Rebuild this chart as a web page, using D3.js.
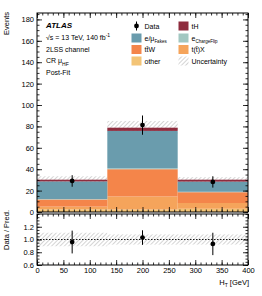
<!DOCTYPE html>
<html>
<head>
<meta charset="utf-8">
<script src="https://cdn.jsdelivr.net/npm/d3@7"></script>
<style>
  body { margin: 0; background: #fff; }
  text { font-family: "Liberation Sans", Arial, sans-serif; }
</style>
</head>
<body>
<svg id="chart" width="262" height="296"></svg>
<script>
// bins in H_T [GeV]
var binEdges = [0, 133.3, 266.7, 400];

// stacked backgrounds, bottom to top
var other      = [2.5, 2.3, 3.0];
var ttX        = [2.5, 12.2, 5.4];
var ttW        = [6.7, 25.5, 10.1];
var chargeFlip = [0.4, 0.8, 0.4];
var fakes      = [16.5, 35.0, 9.5];
var tH         = [1.6, 3.0, 1.8];
var uncert     = [3.2, 6.3, 2.4];

var dataVals = [29.0, 81.2, 28.1];
var dataErr  = [5.4, 9.0, 5.3];

var yTicks  = [0, 20, 40, 60, 80, 100, 120, 140, 160, 180];
var xTicks  = [0, 50, 100, 150, 200, 250, 300, 350, 400];
var rTicks  = [0.6, 0.8, 1, 1.2];

var layers = [
  { name: "other",      vals: other,      color: "#f3c476" },
  { name: "ttX",        vals: ttX,        color: "#f5a45b" },
  { name: "ttW",        vals: ttW,        color: "#f4854a" },
  { name: "chargeFlip", vals: chargeFlip, color: "#a2c7c1" },
  { name: "fakes",      vals: fakes,      color: "#6a9cad" },
  { name: "tH",         vals: tH,         color: "#8e2c3e" }
];

var svg = d3.select("#chart");

var defs = svg.append("defs");
var pat = defs.append("pattern")
    .attr("id", "hatch")
    .attr("patternUnits", "userSpaceOnUse")
    .attr("width", 3).attr("height", 3)
    .attr("patternTransform", "rotate(45)");
pat.append("line")
    .attr("x1", 0).attr("y1", 0).attr("x2", 0).attr("y2", 3)
    .attr("stroke", "#a0a0a0").attr("stroke-width", 0.9);

var L = 37, R = 248, T = 13, B = 212;
var RT = 214, RB = 265;

var x = d3.scaleLinear().domain([0, 400]).range([L, R]);
var y = d3.scaleLinear().domain([0, 186]).range([B, T]);
var yr = d3.scaleLinear().domain([0.6, 1.4]).range([RB, RT]);

var nb = dataVals.length;
var base = [0, 0, 0];
var total = [0, 0, 0];
layers.forEach(function(l) {
  for (var i = 0; i < nb; i++) total[i] += l.vals[i];
});

// uncertainty band (drawn under the stack, only the upper half shows)
for (var i = 0; i < nb; i++) {
  svg.append("rect")
    .attr("x", x(binEdges[i]))
    .attr("width", x(binEdges[i+1]) - x(binEdges[i]))
    .attr("y", y(total[i] + uncert[i]))
    .attr("height", y(total[i] - uncert[i]) - y(total[i] + uncert[i]))
    .attr("fill", "url(#hatch)");
  svg.append("rect")
    .attr("x", x(binEdges[i]))
    .attr("width", x(binEdges[i+1]) - x(binEdges[i]))
    .attr("y", yr(1 + uncert[i] / total[i]))
    .attr("height", yr(1 - uncert[i] / total[i]) - yr(1 + uncert[i] / total[i]))
    .attr("fill", "url(#hatch)");
}

// stacks
layers.forEach(function(l) {
  for (var i = 0; i < nb; i++) {
    var y0 = base[i], y1 = base[i] + l.vals[i];
    svg.append("rect")
      .attr("x", x(binEdges[i]))
      .attr("width", x(binEdges[i+1]) - x(binEdges[i]))
      .attr("y", y(y1))
      .attr("height", y(y0) - y(y1))
      .attr("fill", l.color);
    base[i] = y1;
  }
});

// ratio line at 1
svg.append("line")
  .attr("x1", L).attr("x2", R).attr("y1", yr(1)).attr("y2", yr(1))
  .attr("stroke", "#000").attr("stroke-width", 0.9).attr("stroke-dasharray", "1.5,1.5");

// data points
for (var i = 0; i < nb; i++) {
  var cx = x((binEdges[i] + binEdges[i+1]) / 2);
  svg.append("line")
    .attr("x1", cx).attr("x2", cx)
    .attr("y1", y(dataVals[i] - dataErr[i])).attr("y2", y(dataVals[i] + dataErr[i]))
    .attr("stroke", "#000").attr("stroke-width", 1);
  svg.append("circle").attr("cx", cx).attr("cy", y(dataVals[i])).attr("r", 2.4).attr("fill", "#000");

  var r = dataVals[i] / total[i], re = dataErr[i] / total[i];
  svg.append("line")
    .attr("x1", cx).attr("x2", cx)
    .attr("y1", yr(r - re)).attr("y2", yr(r + re))
    .attr("stroke", "#000").attr("stroke-width", 1);
  svg.append("circle").attr("cx", cx).attr("cy", yr(r)).attr("r", 2.4).attr("fill", "#000");
}

// axes with inward ticks
function minorRange(a, b, step) {
  return d3.range(Math.round(a / step), Math.round(b / step) + 1).map(function(k) { return +(k * step).toFixed(4); });
}

function frame(yScale, top, bottom, majors, minors, xLabels) {
  var g;
  // left
  g = svg.append("g").attr("transform", "translate(" + L + ",0)")
    .call(d3.axisLeft(yScale).tickValues(majors).tickSize(-5).tickPadding(3));
  g.select(".domain").remove();
  g.selectAll("text").attr("font-size", "7.5px").attr("fill", "#000");
  g = svg.append("g").attr("transform", "translate(" + L + ",0)")
    .call(d3.axisLeft(yScale).tickValues(minors).tickSize(-2.5).tickFormat(""));
  g.select(".domain").remove();
  // right
  g = svg.append("g").attr("transform", "translate(" + R + ",0)")
    .call(d3.axisRight(yScale).tickValues(majors).tickSize(-5).tickFormat(""));
  g.select(".domain").remove();
  g = svg.append("g").attr("transform", "translate(" + R + ",0)")
    .call(d3.axisRight(yScale).tickValues(minors).tickSize(-2.5).tickFormat(""));
  g.select(".domain").remove();
  // top and bottom
  var xMinor = minorRange(0, 400, 10);
  [[top, d3.axisTop], [bottom, d3.axisBottom]].forEach(function(p) {
    var isBottom = p[0] === bottom;
    var a = p[1](x).tickValues(xTicks).tickSize(-5).tickPadding(3);
    if (!(isBottom && xLabels)) a.tickFormat("");
    g = svg.append("g").attr("transform", "translate(0," + p[0] + ")").call(a);
    g.select(".domain").remove();
    g.selectAll("text").attr("font-size", "7.5px").attr("fill", "#000");
    g = svg.append("g").attr("transform", "translate(0," + p[0] + ")")
      .call(p[1](x).tickValues(xMinor).tickSize(-2.5).tickFormat(""));
    g.select(".domain").remove();
  });
  svg.selectAll(".tick line").attr("stroke-width", 0.8);
  svg.append("rect")
    .attr("x", L).attr("y", top).attr("width", R - L).attr("height", bottom - top)
    .attr("fill", "none").attr("stroke", "#000").attr("stroke-width", 1);
}

frame(y, T, B, yTicks, minorRange(0, 185, 5), false);
frame(yr, RT, RB, rTicks, minorRange(0.6, 1.4, 0.05), true);

// axis titles
svg.append("text").attr("transform", "translate(9," + 12 + ") rotate(-90)")
  .attr("text-anchor", "end").attr("font-size", "7.5px").text("Events");
svg.append("text").attr("transform", "translate(9," + 210 + ") rotate(-90)")
  .attr("text-anchor", "end").attr("font-size", "7.5px").text("Data / Pred.");
var xt = svg.append("text").attr("x", R + 1).attr("y", 285)
  .attr("text-anchor", "end").attr("font-size", "7.5px");
xt.append("tspan").text("H");
xt.append("tspan").attr("font-size", "5px").attr("dy", 2).text("T");
xt.append("tspan").attr("dy", -2).text(" [GeV]");

// ATLAS label
var lx = 46;
svg.append("text").attr("x", lx).attr("y", 28).attr("font-size", "8px")
  .attr("font-weight", "bold").attr("font-style", "italic").text("ATLAS");
var t1 = svg.append("text").attr("x", lx).attr("y", 40).attr("font-size", "7px");
t1.append("tspan").text("\u221As = 13 TeV, 140 fb");
t1.append("tspan").attr("font-size", "5px").attr("dy", -3).text("-1");
svg.append("text").attr("x", lx).attr("y", 52).attr("font-size", "7px").text("2LSS channel");
var t3 = svg.append("text").attr("x", lx).attr("y", 63).attr("font-size", "7px");
t3.append("tspan").text("CR \u03bc");
t3.append("tspan").attr("font-size", "5px").attr("dy", 3).text("HF");
svg.append("text").attr("x", lx).attr("y", 75).attr("font-size", "7px").text("Post-Fit");

// legend
var legRows = [28.5, 40.5, 52, 63.5];
var legCols = [131.5, 178.5];
var legItems = [
  { col: 0, row: 0, type: "data", label: ["Data"] },
  { col: 1, row: 0, color: "#8e2c3e", label: ["tH"] },
  { col: 0, row: 1, color: "#6a9cad", label: ["e/\u03bc", "Fakes"] },
  { col: 1, row: 1, color: "#a2c7c1", label: ["e", "ChargeFlip"] },
  { col: 0, row: 2, color: "#f4854a", label: ["tt\u0304W"] },
  { col: 1, row: 2, color: "#f5a45b", label: ["t(t\u0304)X"] },
  { col: 0, row: 3, color: "#f3c476", label: ["other"] },
  { col: 1, row: 3, type: "unc", label: ["Uncertainty"] }
];
legItems.forEach(function(d) {
  var bx = legCols[d.col], by = legRows[d.row];
  if (d.type === "data") {
    svg.append("line").attr("x1", bx + 5).attr("x2", bx + 5).attr("y1", by - 7).attr("y2", by + 2)
      .attr("stroke", "#000").attr("stroke-width", 1);
    svg.append("circle").attr("cx", bx + 5).attr("cy", by - 2.5).attr("r", 2.4).attr("fill", "#000");
  } else {
    svg.append("rect").attr("x", bx).attr("y", by - 7).attr("width", 10).attr("height", 9)
      .attr("fill", d.type === "unc" ? "url(#hatch)" : d.color);
  }
  var t = svg.append("text").attr("x", bx + 13).attr("y", by).attr("font-size", "7px");
  t.append("tspan").text(d.label[0]);
  if (d.label[1]) t.append("tspan").attr("font-size", "4.5px").attr("dy", 2.5).text(d.label[1]);
});
</script>
</body>
</html>
